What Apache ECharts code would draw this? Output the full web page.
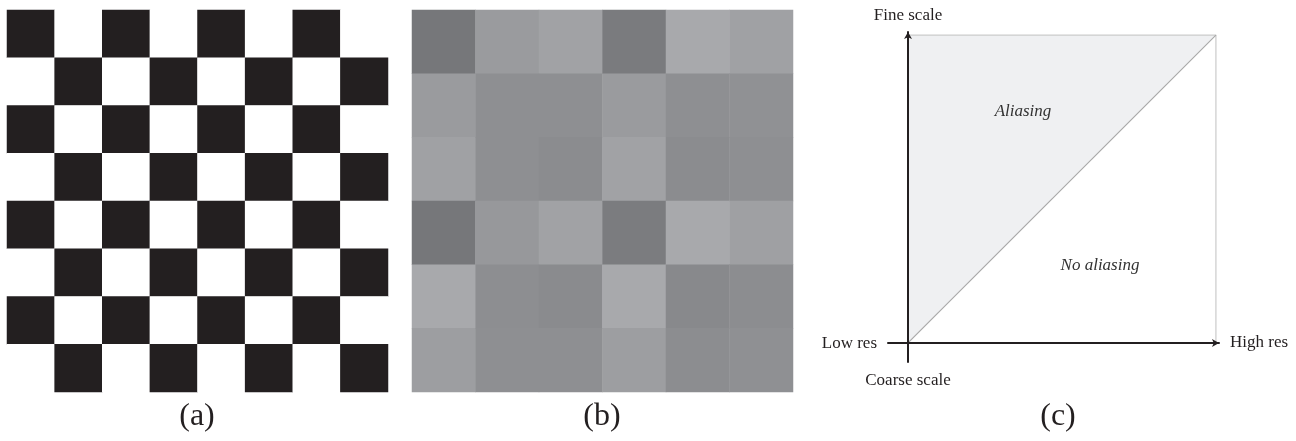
<!DOCTYPE html>
<html><head><meta charset="utf-8">
<script src="https://cdn.jsdelivr.net/npm/echarts@6/dist/echarts.min.js"></script>
<style>html,body{margin:0;padding:0;background:#fff}#c{width:1296px;height:441px}</style>
</head><body><div id="c"></div>
<script>
// Panel (a): 8x8 checkerboard, 1 = black, 0 = white (rows top to bottom)
const boardRows = [
  [1,0,1,0,1,0,1,0],
  [0,1,0,1,0,1,0,1],
  [1,0,1,0,1,0,1,0],
  [0,1,0,1,0,1,0,1],
  [1,0,1,0,1,0,1,0],
  [0,1,0,1,0,1,0,1],
  [1,0,1,0,1,0,1,0],
  [0,1,0,1,0,1,0,1]
];
const boardCols = ['1','2','3','4','5','6','7','8'];
// Panel (b): 6x6 grey levels (0-255), rows top to bottom
const blurRows = [
  [118,154,161,122,168,160],
  [154,142,142,154,142,144],
  [160,142,139,161,139,142],
  [118,151,161,123,168,159],
  [168,141,138,168,136,140],
  [157,142,142,157,140,143]
];
const blurCols = ['1','2','3','4','5','6'];
// Panel (c): regions in (resolution, scale) unit square
const aliasX = [0, 1, 0];
const aliasY = [0, 1, 1];
const diagonal = [[0, 0], [1, 1]];
const frame = [[0, 1], [1, 1], [1, 0]];
const captions = ['(a)', '(b)', '(c)'];

const INK = '#231f20';
function grey(v){ return 'rgb(' + v + ',' + (v+1) + ',' + (v+4) + ')'; }

const boardData = [];
boardRows.forEach((row, r) => row.forEach((v, c) => {
  boardData.push({ value: [c, r, v], itemStyle: { color: v ? INK : '#ffffff' } });
}));
const blurData = [];
blurRows.forEach((row, r) => row.forEach((v, c) => {
  blurData.push({ value: [c, r, v], itemStyle: { color: grey(v) } });
}));

const hiddenCat = (data, idx, inverse) => ({
  type: 'category', data: data, gridIndex: idx, inverse: !!inverse,
  show: false, boundaryGap: true
});
const arrowAxis = (idx, min, max) => ({
  type: 'value', gridIndex: idx, min: min, max: max, z: 5,
  axisLine: { show: true, onZero: true, symbol: ['none', 'arrow'], symbolSize: [6, 7],
              lineStyle: { color: INK, width: 2 } },
  axisTick: { show: false }, axisLabel: { show: false }, splitLine: { show: false }
});

const txt = (text, x, y, size, align, italic, color) => ({
  type: 'text', x: x, y: y, silent: true, z: 100,
  style: {
    text: text,
    font: (italic ? 'italic ' : '') + size + 'px "Liberation Serif", "DejaVu Serif", serif',
    fill: color || INK,
    textAlign: align, align: align,
    textVerticalAlign: 'middle', verticalAlign: 'middle'
  }
});

const chart = echarts.init(document.getElementById('c'), null, { renderer: 'canvas' });
chart.setOption({
  animation: false,
  backgroundColor: '#ffffff',
  grid: [
    { left: 7, top: 10, width: 381, height: 382 },
    { left: 412, top: 10, width: 381, height: 382 },
    { left: 888, top: 32, width: 331, height: 330 }
  ],
  xAxis: [
    hiddenCat(boardCols, 0),
    hiddenCat(blurCols, 1),
    arrowAxis(2, -0.065, 1.01)
  ],
  yAxis: [
    hiddenCat(boardCols, 0, true),
    hiddenCat(blurCols, 1, true),
    arrowAxis(2, -0.062, 1.01)
  ],
  series: [
    { type: 'heatmap', xAxisIndex: 0, yAxisIndex: 0, data: boardData,
      itemStyle: { borderWidth: 0 }, emphasis: { disabled: true } },
    { type: 'heatmap', xAxisIndex: 1, yAxisIndex: 1, data: blurData,
      itemStyle: { borderWidth: 0 }, emphasis: { disabled: true } },
    { type: 'custom', xAxisIndex: 2, yAxisIndex: 2, z: 1, data: [[0, 0]],
      renderItem: function (params, api) {
        const pts = aliasX.map((x, i) => api.coord([x, aliasY[i]]));
        return { type: 'polygon', shape: { points: pts }, style: { fill: '#eff0f2' } };
      } },
    { type: 'line', xAxisIndex: 2, yAxisIndex: 2, z: 2, data: frame, symbol: 'none',
      lineStyle: { color: '#cbcbcb', width: 1.2 } },
    { type: 'line', xAxisIndex: 2, yAxisIndex: 2, z: 3, data: diagonal, symbol: 'none',
      lineStyle: { color: '#a9a9a9', width: 1.2 } }
  ],
  graphic: [
    txt(captions[0], 197, 417, 32, 'center'),
    txt(captions[1], 602, 417, 32, 'center'),
    txt(captions[2], 1058, 417, 32, 'center'),
    txt('Fine scale', 908, 16, 17, 'center'),
    txt('Low res', 877, 344, 17, 'right'),
    txt('High res', 1230, 343, 17, 'left'),
    txt('Coarse scale', 908, 381, 17, 'center'),
    txt('Aliasing', 1023, 112, 17, 'center', true, '#333'),
    txt('No aliasing', 1100, 266, 17, 'center', true, '#333')
  ]
});
</script></body></html>
